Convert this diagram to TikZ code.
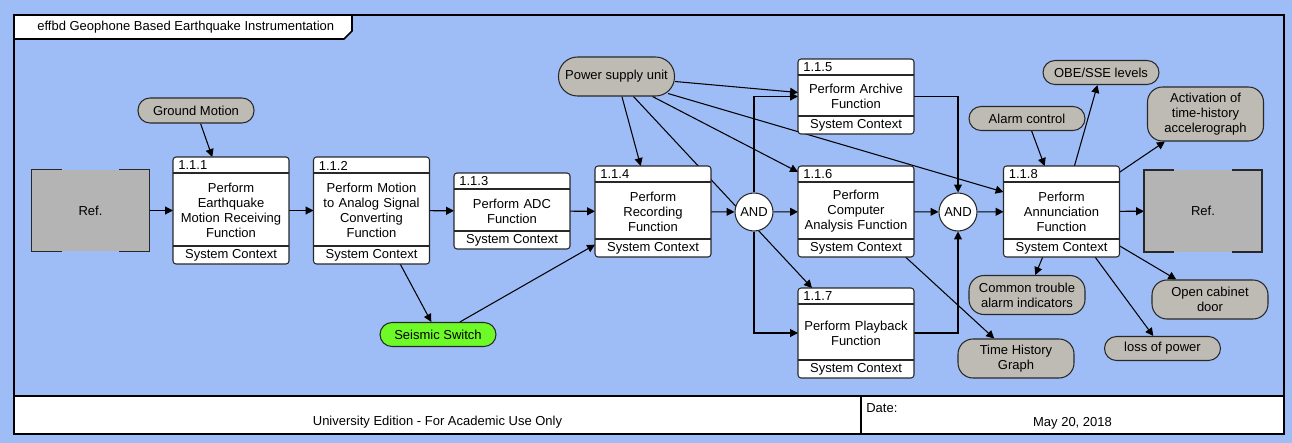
\documentclass[tikz,border=0pt]{standalone}
\usepackage{fontspec}
\setmainfont{Liberation Sans}
\usetikzlibrary{arrows.meta,calc,backgrounds}
\pgfdeclarelayer{backdrop}
\pgfsetlayers{backdrop,background,main}
\definecolor{sheetblue}{RGB}{158,188,246}
\definecolor{itemgrey}{RGB}{190,187,180}
\definecolor{refgrey}{RGB}{180,180,180}
\definecolor{switchgreen}{RGB}{110,250,40}
\definecolor{edgegrey}{RGB}{40,40,40}
\tikzset{
  fnbox/.style={draw=edgegrey, fill=white, rounded corners=0.06cm, minimum width=2.32cm, outer sep=0pt, align=center, text width=2.2cm, inner sep=0pt, line width=0.6pt},
  fnline/.style={draw=edgegrey, line width=0.6pt},
  fnnum/.style={anchor=west, inner sep=0pt},
  fnfoot/.style={inner sep=0pt},
  itembox/.style={draw=edgegrey, fill=itemgrey, rounded corners=0.24cm, minimum width=2.32cm, minimum height=0.48cm, align=center, inner sep=0pt, line width=0.6pt},
  twoline/.style={minimum height=0.78cm, rounded corners=0.3cm},
  refbox/.style={fill=refgrey, minimum width=2.36cm, minimum height=1.64cm, outer sep=0pt},
  andgate/.style={circle, draw=edgegrey, fill=white, minimum size=0.76cm, inner sep=0pt, line width=0.6pt},
  flow/.style={-{Triangle[length=4.5pt,width=4.5pt]}, line width=0.6pt, draw=black}
}
\newcommand{\fnblock}[5]{%
  \node[fnbox, minimum height=#3*0.02cm] (#1) at (#2) {#5};
  \draw[fnline] ($(#1.north west)+(0,16)$) -- ($(#1.north east)+(0,16)$);
  \draw[fnline] ($(#1.south west)+(0,-18)$) -- ($(#1.south east)+(0,-18)$);
  \node[fnnum] (#1num) at ($(#1.north west)+(5,8.5)$) {#4};
  \node[fnfoot] (#1foot) at ($(#1.south)+(0,-8.5)$) {System Context};
}
\begin{document}
\begin{tikzpicture}[x=0.02cm, y=-0.02cm, font=\fontsize{7.4}{8.5}\selectfont]
\useasboundingbox (0,0) rectangle (1292,443);
\begin{pgfonlayer}{backdrop}
\fill[sheetblue] (0,0) rectangle (1292,443);
\fill[white] (14,396) rectangle (1284,434);
\draw[line width=1.1pt] (14,15) rectangle (1284,434);
\draw[line width=1.1pt] (14,396) -- (1284,396);
\draw[line width=1.1pt] (861,396) -- (861,434);
\draw[fill=white, line width=0.9pt] (14,15) -- (352,15) -- (352,31) -- (344,39) -- (14,39) -- cycle;
\end{pgfonlayer}
\node[anchor=west, inner sep=0pt] (title) at (37,27) {effbd Geophone Based Earthquake Instrumentation};
\node (edition) at (437.5,422) {University Edition - For Academic Use Only};
\node[anchor=west, inner sep=0pt] (datelbl) at (866,408) {Date:};
\node (dateval) at (1072.5,423) {May 20, 2018};

\node[refbox] (refin) at (90.5,210.5) {Ref.};
\node[refbox] (refout) at (1203,211) {Ref.};
\foreach \r in {refin,refout} {
  \draw[edgegrey, line width=0.8pt] ($(\r.north west)+(30,0)$) -- (\r.north west) -- (\r.south west) -- ($(\r.south west)+(30,0)$);
  \draw[edgegrey, line width=0.8pt] ($(\r.north east)+(-30,0)$) -- (\r.north east) -- (\r.south east) -- ($(\r.south east)+(-30,0)$);
}

\fnblock{f1}{231,210.5}{107}{1.1.1}{Perform\\Earthquake\\Motion Receiving\\Function}
\fnblock{f2}{371.5,210.5}{107}{1.1.2}{Perform Motion\\to Analog Signal\\Converting\\Function}
\fnblock{f3}{512,211}{76}{1.1.3}{Perform ADC\\Function}
\fnblock{f4}{653,211.5}{91}{1.1.4}{Perform\\Recording\\Function}
\fnblock{f5}{856,96.5}{75}{1.1.5}{Perform Archive\\Function}
\fnblock{f6}{856,211.5}{91}{1.1.6}{Perform\\Computer\\Analysis Function}
\fnblock{f7}{856,333}{90}{1.1.7}{Perform Playback\\Function}
\fnblock{f8}{1061.5,211.5}{91}{1.1.8}{Perform\\Annunciation\\Function}

\node[andgate] (and1) at (754,212) {AND};
\node[andgate] (and2) at (958,212) {AND};

\node[itembox, minimum height=0.5cm] (gm) at (196,110.5) {Ground Motion};
\node[itembox, minimum height=0.78cm, rounded corners=0.38cm] (psu) at (616.5,76.5) {Power supply unit};
\node[itembox, fill=switchgreen] (seis) at (438,334.5) {Seismic Switch};
\node[itembox] (obe) at (1101,72.5) {OBE/SSE levels};
\node[itembox] (alarm) at (1027,118.5) {Alarm control};
\node[itembox, minimum height=1.08cm, rounded corners=0.3cm] (act) at (1205.5,114) {Activation of\\time-history\\accelerograph};
\node[itembox, twoline] (ctai) at (1027,295) {Common trouble\\alarm indicators};
\node[itembox, twoline] (thg) at (1016,358.5) {Time History\\Graph};
\node[itembox] (lop) at (1162.5,348.5) {loss of power};
\node[itembox, twoline] (ocd) at (1210,299.5) {Open cabinet\\door};

\begin{scope}[on background layer]
\draw[flow] (refin) -- (f1);
\draw[flow] (gm) -- (f1);
\draw[flow] (f1) -- (f2);
\draw[flow] (f2) -- (f3);
\draw[flow] (f2) -- (seis);
\draw[flow] (seis) -- (f4);
\draw[flow] (f3) -- (f4);
\draw[flow] (psu) -- (f4);
\draw[flow] ($(psu.south)+(17,0)$) -- ($(f7.north west)+(14,0)$);
\draw[flow] ($(psu.east)+(0,5)$) -- ($(f5.west)+(0,-4)$);
\draw[flow] ($(psu.south)+(36,0)$) -- ($(f6.north west)+(0,6)$);
\draw[flow] ($(psu.south east)+(-7,-3)$) -- ($(f8.north west)+(0,26)$);
\draw[flow] (f4) -- (and1);
\draw[flow] (and1) -- (f6);
\draw[flow] (and1) |- (f5);
\draw[flow] (and1) |- (f7);
\draw[flow] (f5) -| (and2);
\draw[flow] (f6) -- (and2);
\draw[flow] (f7) -| (and2);
\draw[flow] (and2) -- (f8);
\draw[flow] (f6) -- (thg);
\draw[flow] (alarm) -- (f8);
\draw[flow] (f8) -- (obe);
\draw[flow] (f8) -- (act);
\draw[flow] (f8) -- (refout);
\draw[flow] (f8) -- (ctai);
\draw[flow] (f8) -- (lop);
\draw[flow] (f8) -- (ocd);
\end{scope}
\end{tikzpicture}
\end{document}
